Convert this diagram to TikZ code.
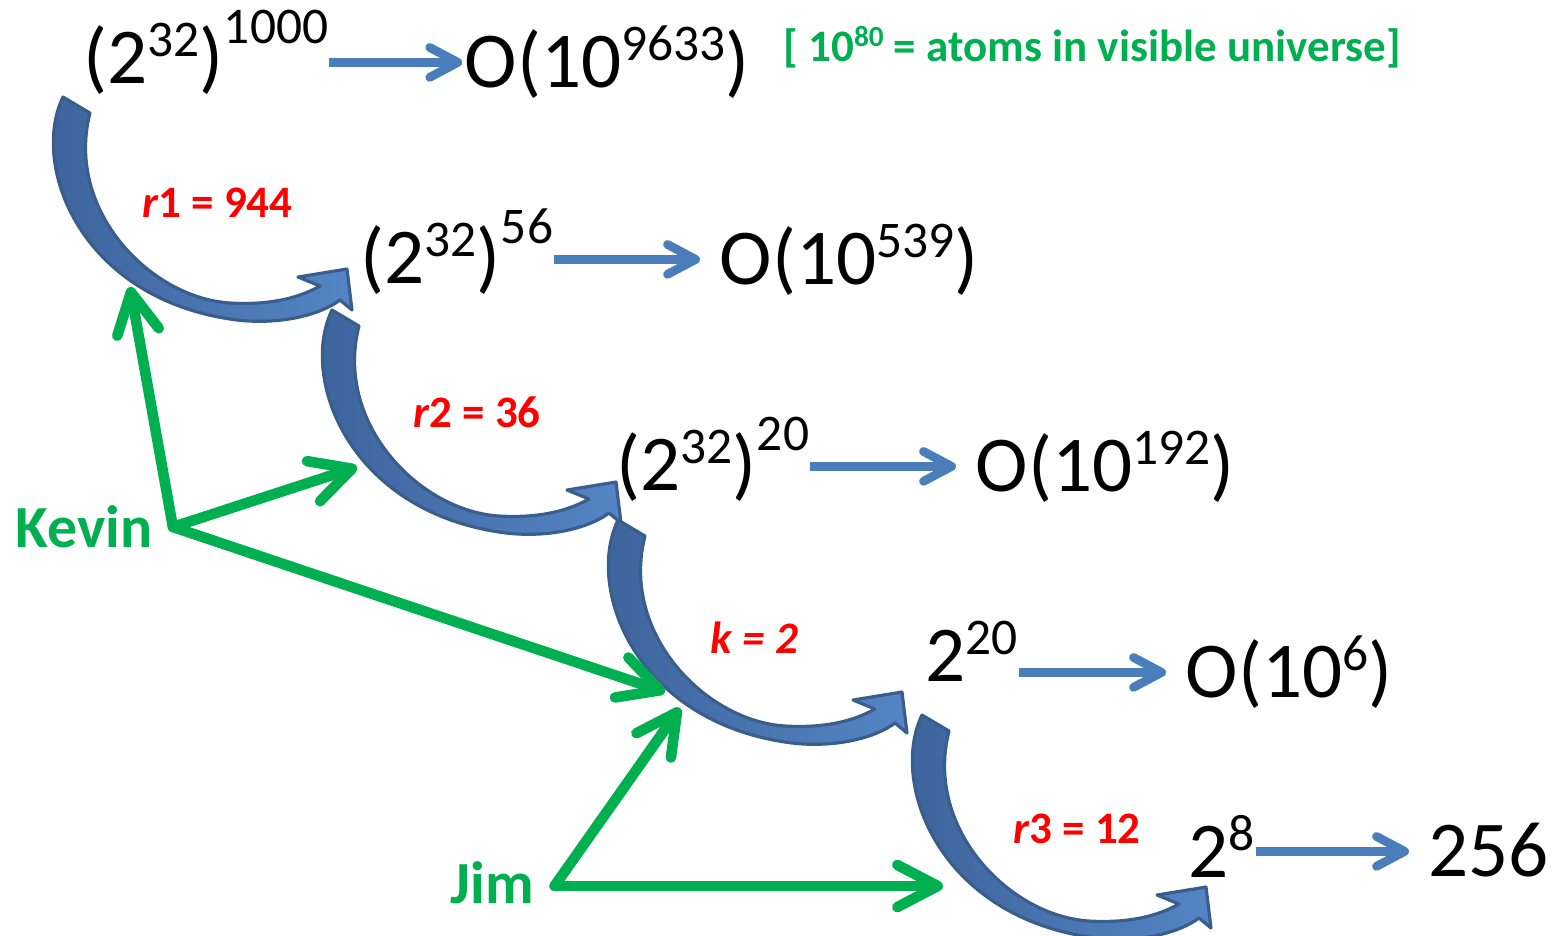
\documentclass[tikz,border=0pt]{standalone}
\usepackage{fontspec}
\setmainfont{Carlito}
\usetikzlibrary{arrows.meta, calc}
\definecolor{flowblue}{HTML}{4A7EBB}
\definecolor{bendlight}{HTML}{5585C5}
\definecolor{benddark}{HTML}{3C6299}
\definecolor{bendedge}{HTML}{3A5E8C}
\definecolor{namegreen}{HTML}{00B050}
\definecolor{labelred}{HTML}{FF0000}
\newcommand\sps[2][0.33em]{\raisebox{#1}{\scalebox{0.65}{#2}}}

\begin{document}
\begin{tikzpicture}[x=0.01cm, y=-0.01cm,
    term/.style={anchor=base west, inner sep=0pt, font=\fontsize{22.5}{27}\selectfont},
    flow/.style={draw=flowblue, line width=2.5pt, -{Straight Barb[length=8pt, width=8.5pt, round]}},
    curvestep/.style={draw=bendedge, line width=0.9pt, line join=round, left color=benddark, right color=bendlight},
    pointer/.style={draw=namegreen, line width=3pt, line cap=round, -{Straight Barb[length=11.5pt, width=12pt, round]}},
    who/.style={anchor=base west, inner sep=0pt, text=namegreen, font=\fontsize{17}{20}\selectfont\bfseries},
    reduction/.style={anchor=base west, inner sep=0pt, text=labelred, font=\fontsize{12.8}{15}\selectfont\bfseries},
]
    \useasboundingbox (0,0) rectangle (1554,935);

    % curved steps
    \foreach \dx/\dy in {0/0, 269/213, 555/423, 859/618} {
        \begin{scope}[shift={(\dx,\dy)}]
            \path[curvestep] (63,97) .. controls (30,165) and (80,300) .. (237,320)
                .. controls (280,325) and (320,315) .. (340,300)
                -- (352,310) -- (347,269) -- (298,277) -- (320,286)
                .. controls (295,300) and (265,305) .. (230,303)
                .. controls (150,298) and (65,210) .. (90,113) -- cycle;
        \end{scope}
    }

    % terms
    \node[term] (t1) at (83,83) {(2\sps{32})\sps[0.5em]{1000}};
    \node[term] (o1) at (464,87) {O(10\sps{9633})};
    \node[term] (t2) at (360,283) {(2\sps{32})\sps[0.5em]{56}};
    \node[term] (o2) at (719,284) {O(10\sps{539})};
    \node[term] (t3) at (616,490) {(2\sps{32})\sps[0.5em]{20}};
    \node[term] (o3) at (975,491) {O(10\sps{192})};
    \node[term] (t4) at (925,681) {2\sps{20}};
    \node[term] (o4) at (1185,697) {O(10\sps{6})};
    \node[term] (t5) at (1188,877) {2\sps{8}};
    \node[term] (o5) at (1428,876) {256};

    \node[anchor=base west, inner sep=0pt, text=namegreen, font=\fontsize{12.8}{15}\selectfont\bfseries] (note) at (783,61) {[ 10\sps{80} = atoms in visible universe]};

    \node[reduction] (r1) at (142,217) {{\itshape r}1 = 944};
    \node[reduction] (r2) at (413,427) {{\itshape r}2 = 36};
    \node[reduction] (k) at (710,653) {\itshape k = 2};
    \node[reduction] (r3) at (1013,843) {{\itshape r}3 = 12};

    \foreach \i in {1,...,5} {
        \coordinate (e\i) at ($(o\i.base west)+(0,7pt)$);
    }
    \draw[flow, shorten >=0.5pt] (t1.east |- e1) -- (e1);
    \foreach \i in {2,...,5} {
        \draw[flow, shorten >=5.4pt] (t\i.east |- e\i) -- (e\i);
    }

    % who did what
    \node[who] (kevin) at (15,547) {Kevin};
    \node[who] (jim) at (450,903) {Jim};
    \coordinate (kv) at ($(kevin.base east)+(20,-20)$);
    \coordinate (jm) at ($(jim.base east)+(20,-17)$);
    \coordinate (kvup) at (130,287);
    \coordinate (kvmid) at (357,467);
    \coordinate (kvlow) at (665,692);
    \coordinate (jmup) at (680,708);
    \coordinate (jmright) at (943,886);
    \draw[pointer] (kv) -- (kvup);
    \draw[pointer] (kv) -- (kvmid);
    \draw[pointer] (kv) -- (kvlow);
    \draw[pointer] (jm) -- (jmup);
    \draw[pointer] (jm) -- (jmright);
\end{tikzpicture}
\end{document}
